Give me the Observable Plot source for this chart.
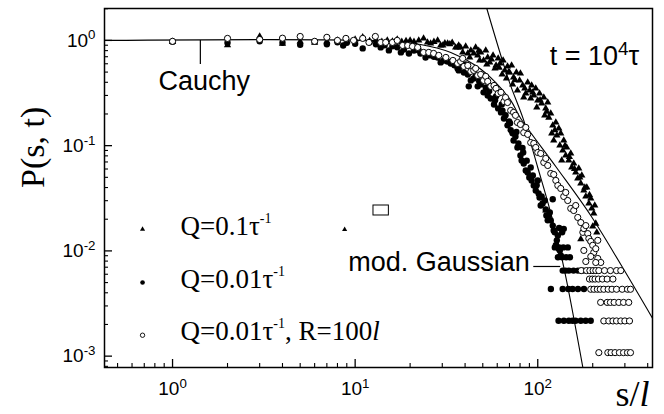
<!DOCTYPE html>
<html><head><meta charset="utf-8">
<script src="https://cdn.jsdelivr.net/npm/d3@7"></script>
<script src="https://cdn.jsdelivr.net/npm/@observablehq/plot@0.6"></script>
<style>body{margin:0;background:#fff} #chart{width:664px;height:414px}</style>
</head><body><div id="chart"></div>
<script>
// ---- axes ----
const xDomain = [0.424, 425];
const yDomain = [7.8e-4, 2.01];
const xMajor = [1, 10, 100];
const xMinor = [0.5,0.6,0.7,0.8,0.9,2,3,4,5,6,7,8,9,20,30,40,50,60,70,80,90,200,300,400];
const yMajor = [1, 0.1, 0.01, 0.001];
const yMinor = [2,0.9,0.8,0.7,0.6,0.5,0.4,0.3,0.2,0.09,0.08,0.07,0.06,0.05,0.04,0.03,0.02,
  0.009,0.008,0.007,0.006,0.005,0.004,0.003,0.002,0.0009,0.0008];

// ---- series: Q = 0.1/tau (triangles) [s/l, P] ----
const triPts = [
[1,0.97],[2,0.90],[3,1.09],[4,0.93],[5,0.98],[6,0.95],[7,0.98],[8,1.0],[9,0.98],[10,1.02],[11,1.07],[12,0.99],
[13,1.01],[14,0.97],[15,1.0],[16,0.98],[17,1.02],[18,0.97],[19,0.99],[20,1.0],[21,0.97],[22.3,1.0],[23.7,1.045],
[24.9,0.957],[25.9,0.936],[27,0.97],[28.3,1.0],[29.4,0.896],[30.2,0.896],[31,0.94],[32.1,0.936],[33,0.92],[34,0.95],
[35.5,0.858],[36.4,0.858],[36.9,0.896],[37.8,0.858],[38.8,0.769],[40.3,0.877],[41.4,0.752],[42.4,0.689],[43.0,0.804],
[44.6,0.752],[45.7,0.858],[46.9,0.72],[48.1,0.645],[48.7,0.769],[50.5,0.645],[51.9,0.804],[52.6,0.591],[53.2,0.689],
[54.6,0.618],[56.9,0.72],[58.3,0.542],[59.1,0.578],[60.7,0.674],[62.2,0.604],[63.8,0.475],[64.6,0.645],[66.0,0.519],
[67.4,0.435],[68.3,0.566],[70.1,0.496],[71.9,0.578],[72.8,0.382],[73.7,0.445],[76.4,0.496],[77.4,0.335],[79.5,0.417],
[80.4,0.486],[82.7,0.373],[83.8,0.287],[86.0,0.313],[88.1,0.398],[90.4,0.335],[91.5,0.281],[92.6,0.373],[95.1,0.30],
[97.5,0.35],[98.8,0.231],[100,0.269],[102.3,0.313],[105,0.252],[107.9,0.287],[109.2,0.194],[110.6,0.226],[113.4,0.257],
[115,0.185],[117.8,0.202],[119.3,0.131],[120.8,0.156],[122.3,0.112],[125.6,0.166],[127.2,0.125],[130.4,0.146],
[132.1,0.1005],[133.6,0.131],[135.3,0.0723],[137.1,0.09],[138.8,0.112],[142.3,0.0807],[144.1,0.0961],[147.8,0.0723],
[151.6,0.0843],[153.5,0.0621],[157.4,0.0677],[161.4,0.0556],[165.6,0.0488],[167.7,0.0607],[172.1,0.0437],[174.3,0.0521],
[178.8,0.0375],[183.3,0.0329],[185.6,0.0401],[190.5,0.0282],[195.2,0.0315],[197.6,0.0253],[202.7,0.0227],[205.2,0.027],
[207.8,0.0182],[200,0.0171],[210.5,0.015],[195.2,0.0126],[172.1,0.0129],[110.6,0.0242],
[47.5,0.80],[55.8,0.66],[61.5,0.55],[69.2,0.50],[75.0,0.42],[84.9,0.35],[93.8,0.32],[103,0.27],[112,0.21],
[124,0.14],[141,0.10],[149,0.078],[159,0.060],[170,0.050],[181,0.040],[192,0.034]
];

// ---- series: Q = 0.01/tau (filled circles) ----
const fillPts = [
[1,0.97],[2,0.95],[3,0.98],[4,0.95],[5,0.91],[6,0.97],[7,0.92],[8,0.96],[8.6,0.896],[9,0.95],[10,0.93],[11,0.84],
[12,0.96],[13,0.92],[13.8,0.858],[14.5,0.90],[15.3,0.804],[16,0.88],[17,0.86],[17.8,0.769],[18.5,0.82],[19.7,0.752],
[21,0.80],[22.3,0.804],[22.8,0.752],[24.3,0.689],[25.9,0.72],[27,0.70],[28.3,0.689],[29.4,0.618],[30.6,0.645],[32,0.63],
[33.4,0.604],[35,0.58],[36.4,0.542],[36.9,0.519],[37.8,0.566],[39.4,0.496],[40.3,0.591],[41.4,0.475],[41.9,0.366],
[43.0,0.417],[44.6,0.435],[45.7,0.455],[46.9,0.366],[48.7,0.382],[50.5,0.321],[51.9,0.357],[53.2,0.30],[55.3,0.281],
[57.6,0.246],[59.1,0.294],[60.7,0.226],[62.9,0.207],[63.5,0.246],[65.3,0.181],[66.6,0.195],[68.3,0.156],[71.1,0.14],
[70.5,0.163],[72.8,0.131],[73.7,0.112],[75.5,0.122],[77.4,0.0961],[78.4,0.105],[80.4,0.0807],[81.6,0.0723],[83.8,0.0677],
[83.2,0.0861],[86.0,0.0581],[88.1,0.0556],[89.9,0.0499],[91.5,0.0621],[92.6,0.0467],[95.1,0.0418],[97.5,0.0375],
[100,0.0467],[101.1,0.0351],[102.3,0.0322],[103.8,0.027],[106.3,0.0282],[109.2,0.0301],[110.6,0.0248],[111.5,0.0217],
[113.4,0.0195],[115,0.0217],[116.4,0.0232],[117.8,0.0195],[120.8,0.0174],[120.8,0.031],[122.3,0.0156],[123.9,0.015],
[125.6,0.0113],[127.2,0.0126],[128.8,0.014],[130.4,0.0105],[130.9,0.0165],[132.1,0.0101],[133.6,0.00904],[136,0.015],
[138.8,0.0162],[47.8,0.41],[54.2,0.33],[58.4,0.27],[64.1,0.215],[69.7,0.17],[76.4,0.135],[82.5,0.095],[87,0.072],
[94,0.052],[98.6,0.042],[105,0.033]
];
const fillRows = [
  {P: 0.0108, s: [124, 131, 138, 146]},
  {P: 0.0087, s: [129, 136, 143, 150]},
  {P: 0.0065, s: [137, 142, 148, 157, 166, 177]},
  {P: 0.00434, s: [118, 137, 147, 155, 166, 179]},
  {P: 0.00217, s: [130, 139, 148, 155, 161, 172, 183, 195]}
];

// ---- series: Q = 0.01/tau, R = 100 l (open circles) ----
const openPts = [
[1,0.98],[2,1.045],[3,1.02],[4,1.05],[5,1.09],[6,0.98],[7,1.07],[8,1.0],[8.9,1.045],[9.8,1.0],[11,1.045],[11.9,0.957],
[12.9,1.09],[13.8,0.957],[14.7,0.957],[16,0.957],[17,1.0],[18.2,0.896],[19.4,0.896],[20.6,0.877],[22,0.858],[23.7,0.769],
[25.3,0.769],[26.9,0.752],[28.7,0.72],[31.4,0.689],[34.3,0.645],[36.4,0.604],[37.8,0.631],[38.8,0.674],[39.4,0.566],
[41.4,0.578],[43.0,0.507],[44.6,0.519],[45.7,0.542],[46.9,0.465],[48.7,0.475],[50.5,0.417],[51.9,0.455],[53.2,0.408],
[55.3,0.366],[57.6,0.373],[59.1,0.35],[60.7,0.313],[62.9,0.321],[65.3,0.263],[66.6,0.287],[68.3,0.257],[71.1,0.216],
[73.7,0.207],[75.5,0.194],[77.4,0.166],[80.4,0.159],[83.8,0.133],[86.0,0.149],[88.1,0.128],[91.5,0.107],[95.1,0.105],
[97.5,0.0961],[100,0.0861],[103.8,0.0843],[107.9,0.0692],[110.6,0.0756],[113.4,0.0648],[117.8,0.0544],[122.3,0.0532],
[125.6,0.0467],[128.8,0.0418],[133.6,0.0392],[138.8,0.0329],[142.3,0.0359],[145.9,0.0301],[151.6,0.0253],[157.4,0.0242],
[161.4,0.027],[165.6,0.0208],[172.1,0.0186],[176.6,0.015],[178.8,0.0163],[183.3,0.0174],[187.9,0.0146],[190.5,0.0131],
[195.2,0.0123],[200,0.0113],[202.7,0.00966],[207.8,0.0105],[213.2,0.0126],[213.2,0.00847],[221.3,0.00776],[178.8,0.0101],
[195.2,0.00885],[183.3,0.00793],[207.8,0.00776]
];
const openRows = [
  {P: 0.0065, s: [173, 185, 193, 201, 208, 216, 232, 250, 270, 285]},
  {P: 0.0054, s: [192, 199, 206, 215, 226, 240, 258]},
  {P: 0.00432, s: [195, 203, 212, 220, 230, 243, 255, 270, 290, 310, 322]},
  {P: 0.00324, s: [221, 240, 250, 262, 278, 295, 315]},
  {P: 0.00216, s: [230, 245, 258, 270, 285, 300, 318]},
  {P: 0.00108, s: [216, 242, 252, 265, 280, 295, 310, 322]}
];

// ---- fitted curves ----
const cauchyPts = [[0.424,1],[13.8,0.99],[22.8,0.916],[33.4,0.769],[45.7,0.578],[58.9,0.398],[71.1,0.269],
  [80.7,0.181],[125.5,0.0634],[195,0.0217],[285,0.00743],[426,0.00228]];
const gaussPts = [[52.6,2.01],[69.4,0.417],[83.8,0.174],[100,0.062],[118,0.0227],[139,0.00695],[176.6,0.00078]];

// ---- legend & annotations ----
const legendLabels = ["Q=0.1τ^{-1}", "Q=0.01τ^{-1}", "Q=0.01τ^{-1}, R=100~{l}"];
const legendMarkP = [0.01607, 0.00501, 0.00158];
const legendTextP = [0.01422, 0.00446, 0.00143];
const legendMarkS = 0.685, legendTextS = 1.106;
const notesStart = [
  {text: "Cauchy", s: 0.838, P: 0.335},
  {text: "t = 10^{4}τ", s: 116.3, P: 0.578}
];
const notesEnd = [{text: "mod. Gaussian", s: 90.4, P: 0.0065}];
const cauchyTick = {s: 1.42, P1: 1, P2: 0.591};
const gaussTick = {P: 0.00711, s1: 95.1, s2: 133.6};
const strayTri = [[8.76, 0.016]];
const strayBox = [{s1: 12.6, s2: 15.3, P1: 0.0217, P2: 0.027}];

const rowsToPts = rows => rows.flatMap(r => r.s.map(s => [s, r.P]));
const fillAll = fillPts.concat(rowsToPts(fillRows));
const openAll = openPts.concat(rowsToPts(openRows));

const sans = "Liberation Sans, Arial, sans-serif";
const serif = "Liberation Serif, Times New Roman, serif";
const fmt = d => "10^{" + Math.round(Math.log10(d)) + "}";
const X = d => d[0], Y = d => d[1];

const W = 664, H = 414, mL = 104, mR = 12, mT = 8, mB = 47;
const fw = W - mL - mR, fh = H - mT - mB;
// inward tick lengths expressed through the log scales
const pxPerDecX = fw / Math.log10(xDomain[1] / xDomain[0]);
const pxPerDecY = fh / Math.log10(yDomain[1] / yDomain[0]);
const xIn = len => xDomain[0] * Math.pow(10, len / pxPerDecX);
const yIn = len => yDomain[0] * Math.pow(10, len / pxPerDecY);

const chart = Plot.plot({
  width: W, height: H,
  marginLeft: mL, marginRight: mR, marginTop: mT, marginBottom: mB,
  style: {background: "white", color: "black", fontFamily: sans},
  x: {type: "log", domain: xDomain},
  y: {type: "log", domain: yDomain},
  marks: [
    Plot.frame({strokeWidth: 1.5}),
    Plot.ruleX(xMajor, {x: d => d, y1: yDomain[0], y2: yIn(8), stroke: "black", strokeWidth: 1.3}),
    Plot.ruleX(xMinor, {x: d => d, y1: yDomain[0], y2: yIn(4), stroke: "black", strokeWidth: 1.1}),
    Plot.ruleY(yMajor, {y: d => d, x1: xDomain[0], x2: xIn(8), stroke: "black", strokeWidth: 1.3}),
    Plot.ruleY(yMinor, {y: d => d, x1: xDomain[0], x2: xIn(4), stroke: "black", strokeWidth: 1.1}),
    Plot.axisX(xMajor, {tickSize: 0, tickPadding: 14, tickFormat: fmt, fontSize: 19, fontFamily: sans, label: null}),
    Plot.axisY(yMajor, {tickSize: 0, tickPadding: 9, tickFormat: fmt, fontSize: 19, fontFamily: sans, label: null}),
    Plot.line(cauchyPts, {x: X, y: Y, curve: "catmull-rom", stroke: "black", strokeWidth: 1.1, clip: true}),
    Plot.line(gaussPts, {x: X, y: Y, curve: "catmull-rom", stroke: "black", strokeWidth: 1.1, clip: true}),
    Plot.dot(triPts, {x: X, y: Y, symbol: "triangle", r: 2.7, fill: "black"}),
    Plot.dot(fillAll, {x: X, y: Y, r: 3.2, fill: "black"}),
    Plot.dot(openAll, {x: X, y: Y, r: 3.1, fill: "white", stroke: "black", strokeWidth: 1}),
    Plot.ruleX([cauchyTick], {x: "s", y1: "P1", y2: "P2", strokeWidth: 1.2}),
    Plot.ruleY([gaussTick], {y: "P", x1: "s1", x2: "s2", strokeWidth: 1.2}),
    Plot.text(notesStart, {x: "s", y: "P", text: "text", textAnchor: "start", lineAnchor: "bottom", fontSize: 27, fontFamily: sans}),
    Plot.text(notesEnd, {x: "s", y: "P", text: "text", textAnchor: "end", lineAnchor: "bottom", fontSize: 27, fontFamily: sans}),
    Plot.dot([legendMarkP[0]], {x: () => legendMarkS, y: d => d, symbol: "triangle", r: 1.9, fill: "black"}),
    Plot.dot([legendMarkP[1]], {x: () => legendMarkS, y: d => d, r: 2.3, fill: "black"}),
    Plot.dot([legendMarkP[2]], {x: () => legendMarkS, y: d => d, r: 2.2, fill: "white", stroke: "black", strokeWidth: 0.9}),
    Plot.text(legendLabels, {x: () => legendTextS, y: (d, i) => legendTextP[i], text: d => d, textAnchor: "start", lineAnchor: "bottom", fontSize: 27, fontFamily: serif}),
    Plot.dot(strayTri, {x: X, y: Y, symbol: "triangle", r: 1.9, fill: "black"}),
    Plot.rect(strayBox, {x1: "s1", x2: "s2", y1: "P1", y2: "P2", fill: "white", stroke: "black", strokeWidth: 1}),
    Plot.text(["P(s, t)"], {frameAnchor: "left", dx: -71, rotate: -90, fontSize: 34, fontFamily: serif}),
    Plot.text(["s/~{l}"], {frameAnchor: "bottom-right", dx: -3, dy: 38, textAnchor: "end", lineAnchor: "bottom", fontSize: 36, fontFamily: serif})
  ]
});
document.getElementById("chart").appendChild(chart);

// rich text: ^{..} superscript, ~{..} italic
const NS = "http://www.w3.org/2000/svg";
function rich(el) {
  const s = el.textContent;
  if (!/[\^~]\{/.test(s)) return;
  const cs = getComputedStyle(el);
  const base = parseFloat(cs.fontSize) || 19;
  const isSerif = /Serif|Times/.test(cs.fontFamily);
  const scale = isSerif ? 0.52 : 0.7, raise = isSerif ? 0.45 : 0.38;
  el.textContent = "";
  let shift = 0;
  const re = /\^\{([^}]*)\}|~\{([^}]*)\}|([^\^~]+)/g;
  let m;
  while ((m = re.exec(s))) {
    const t = document.createElementNS(NS, "tspan");
    if (m[1] !== undefined) {
      t.textContent = m[1];
      t.setAttribute("font-size", base * scale);
      const target = -base * raise;
      t.setAttribute("dy", target - shift); shift = target;
    } else {
      t.textContent = m[2] !== undefined ? m[2] : m[3];
      if (m[2] !== undefined) t.setAttribute("font-style", "italic");
      if (shift !== 0) { t.setAttribute("dy", -shift); shift = 0; }
    }
    el.appendChild(t);
  }
}
chart.querySelectorAll("text").forEach(rich);
</script>
</body></html>
